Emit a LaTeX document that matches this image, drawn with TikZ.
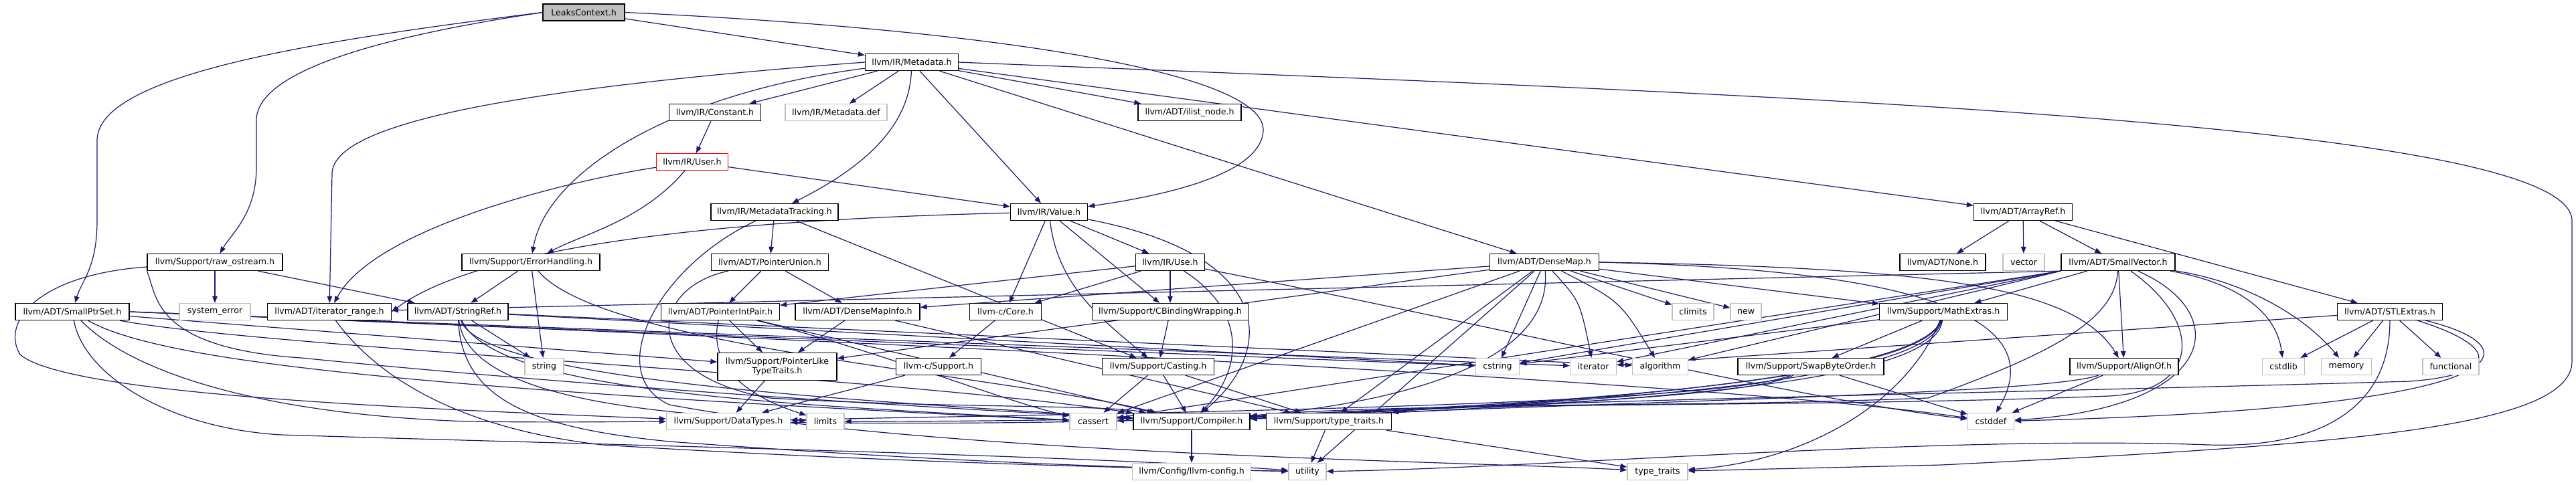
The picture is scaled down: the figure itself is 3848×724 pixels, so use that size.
\documentclass[tikz,border=0pt]{standalone}
\usepackage{fontspec}
\setmainfont{DejaVu Sans}
\usetikzlibrary{arrows.meta,backgrounds}
\definecolor{edgec}{HTML}{191970}
\definecolor{grayb}{HTML}{BFBFBF}
\definecolor{redb}{HTML}{FF0000}
\tikzset{
  bx/.style={draw=black, line width=1.3pt, fill=white, inner sep=0pt, minimum height=25pt, align=center, font=\fontsize{12.6}{14.5}\selectfont},
  gbx/.style={bx, draw=grayb},
  e/.style={draw=edgec, line width=1.2pt, -{Triangle[length=10pt,width=7.5pt]}},
}
\begin{document}
\begin{tikzpicture}[x=1pt, y=-1pt]
\useasboundingbox (0,0) rectangle (3848,724);
% nodes
\node[bx, fill=grayb, minimum width=122pt] (lc) at (872,18.5) {LeaksContext.h};
\node[bx, minimum width=139pt] (meta) at (1362,93) {llvm/IR/Metadata.h};
\node[bx, minimum width=137pt] (const) at (1068,168) {llvm/IR/Constant.h};
\node[gbx, minimum width=152pt] (mdef) at (1249,168) {llvm/IR/Metadata.def};
\node[bx, minimum width=154pt] (ilist) at (1777,168) {llvm/ADT/ilist\_node.h};
\node[bx, draw=redb, minimum width=107pt] (user) at (1034,242) {llvm/IR/User.h};
\node[bx, minimum width=190pt] (mtrack) at (1157,317) {llvm/IR/MetadataTracking.h};
\node[bx, minimum width=115pt] (value) at (1567,317) {llvm/IR/Value.h};
\node[bx, minimum width=147pt] (arrayref) at (3022,317) {llvm/ADT/ArrayRef.h};
\node[bx, minimum width=202pt] (raw) at (321,392) {llvm/Support/raw\_ostream.h};
\node[bx, minimum width=206pt] (errh) at (793,392) {llvm/Support/ErrorHandling.h};
\node[bx, minimum width=175pt] (punion) at (1150,392) {llvm/ADT/PointerUnion.h};
\node[bx, minimum width=103pt] (use) at (1748,392) {llvm/IR/Use.h};
\node[bx, minimum width=163pt] (densemap) at (2307,392) {llvm/ADT/DenseMap.h};
\node[bx, minimum width=128pt] (none) at (2902,392) {llvm/ADT/None.h};
\node[gbx, minimum width=62pt] (vector) at (3023,392) {vector};
\node[bx, minimum width=170pt] (svec) at (3164,392) {llvm/ADT/SmallVector.h};
\node[bx, minimum width=170pt] (sptr) at (108,466) {llvm/ADT/SmallPtrSet.h};
\node[gbx, minimum width=106pt] (syserr) at (321,466) {system\_error};
\node[bx, minimum width=185pt] (itrange) at (492,466) {llvm/ADT/iterator\_range.h};
\node[bx, minimum width=150pt] (sref) at (684,466) {llvm/ADT/StringRef.h};
\node[bx, minimum width=177pt] (pip) at (1076,466) {llvm/ADT/PointerIntPair.h};
\node[bx, minimum width=186pt] (dmi) at (1281,466) {llvm/ADT/DenseMapInfo.h};
\node[bx, minimum width=107pt] (core) at (1502,466) {llvm-c/Core.h};
\node[bx, minimum width=233pt] (cbw) at (1748,466) {llvm/Support/CBindingWrapping.h};
\node[gbx, minimum width=62pt] (climits) at (2529,466) {climits};
\node[gbx, minimum width=46pt] (new) at (2608,466) {new};
\node[bx, minimum width=191pt] (math) at (2903,466) {llvm/Support/MathExtras.h};
\node[bx, minimum width=157pt] (stlx) at (3570,466) {llvm/ADT/STLExtras.h};
\node[gbx, minimum width=58pt] (string) at (813,548) {string};
\node[bx, minimum width=178pt, minimum height=41pt] (pltt) at (1161,548) {llvm/Support/PointerLike\\TypeTraits.h};
\node[bx, minimum width=127pt] (csup) at (1402,548) {llvm-c/Support.h};
\node[bx, minimum width=167pt] (cast) at (1730,548) {llvm/Support/Casting.h};
\node[gbx, minimum width=65pt] (cstring) at (2237,548) {cstring};
\node[gbx, minimum width=69pt] (iter) at (2380,548) {iterator};
\node[gbx, minimum width=83pt] (algo) at (2480,548) {algorithm};
\node[bx, minimum width=218pt] (swap) at (2705,548) {llvm/Support/SwapByteOrder.h};
\node[bx, minimum width=162pt] (align) at (3173,548) {llvm/Support/AlignOf.h};
\node[gbx, minimum width=63pt] (cstdlib) at (3411,548) {cstdlib};
\node[gbx, minimum width=75pt] (memory) at (3505,548) {memory};
\node[gbx, minimum width=84pt] (functional) at (3661,548) {functional};
\node[gbx, minimum width=185pt] (dtypes) at (1088,630) {llvm/Support/DataTypes.h};
\node[gbx, minimum width=56pt] (limits) at (1233,630) {limits};
\node[gbx, minimum width=70pt] (cassert) at (1633,630) {cassert};
\node[bx, minimum width=174pt] (compiler) at (1780,630) {llvm/Support/Compiler.h};
\node[bx, minimum width=187pt] (ttraits) at (1985,630) {llvm/Support/type\_traits.h};
\node[gbx, minimum width=69pt] (cstddef) at (2974,630) {cstddef};
\node[gbx, minimum width=177pt] (lconf) at (1780,705) {llvm/Config/llvm-config.h};
\node[gbx, minimum width=56pt] (utility) at (1953,705) {utility};
\node[gbx, minimum width=90pt] (stdtt) at (2476,705) {type\_traits};
\begin{scope}[on background layer]
% edges: LeaksContext
\draw[e] (lc.west) .. controls (480,60) and (145,110) .. (145,210) -- (145,330) .. controls (145,400) and (122,420) .. (sptr);
\draw[e] (lc.west) .. controls (600,50) and (383,100) .. (383,180) -- (383,250) .. controls (383,320) and (345,350) .. (raw);
\draw[e] (lc) -- (meta);
\draw[e] (lc.east) .. controls (1500,45) and (1890,110) .. (1887,195) .. controls (1884,265) and (1720,295) .. (value);
% Metadata
\draw[e] (meta.west) .. controls (800,130) and (496,180) .. (496,260) -- (itrange);
\draw[e] (meta) .. controls (1000,140) and (815,260) .. (errh);
\draw[e] (meta) -- (const);
\draw[e] (meta) -- (mdef);
\draw[e] (meta) .. controls (1358,190) and (1290,250) .. (mtrack);
\draw[e] (meta) -- (value);
\draw[e] (meta) -- (densemap);
\draw[e] (meta) -- (ilist);
\draw[e] (meta) -- (arrayref);
\draw[e] (meta.east) .. controls (2600,140) and (3842,180) .. (3842,330) -- (3842,540) .. controls (3842,640) and (3500,665) .. (2900,695) -- (stdtt);
% Constant, User
\draw[e] (const) -- (user);
\draw[e] (user) -- (value);
\draw[e] (user) .. controls (960,330) and (870,350) .. (errh);
\draw[e] (user) .. controls (850,270) and (560,340) .. (itrange);
% MetadataTracking
\draw[e] (mtrack) -- (punion);
\draw[e] (mtrack) -- (cast);
\draw[e] (mtrack) .. controls (980,400) and (900,560) .. (1000,605) .. controls (1400,680) and (2200,690) .. (stdtt);
% Value
\draw[e] (value) .. controls (1000,330) and (700,380) .. (itrange.east);
\draw[e] (value) -- (core);
\draw[e] (value) .. controls (1580,430) and (1650,480) .. (cast);
\draw[e] (value) -- (cbw);
\draw[e] (value) -- (use);
\draw[e] (value) .. controls (1900,380) and (1910,520) .. (compiler);
% Use
\draw[e] (use) -- (pip);
\draw[e] (use) -- (core);
\draw[e] (use) -- (cbw);
\draw[e] (use) .. controls (1870,470) and (1850,560) .. (compiler);
\draw[e] (use) .. controls (2200,480) and (2700,600) .. (cstddef);
% misc
\draw[e] (cbw) -- (cast);
\draw[e] (core) -- (csup);
\draw[e] (csup) -- (dtypes);
\draw[e] (cast) -- (cassert);
\draw[e] (cast) -- (compiler);
\draw[e] (cast) -- (ttraits);
\draw[e] (compiler) -- (lconf);
\draw[e] (ttraits) -- (utility);
\draw[e] (ttraits) -- (stdtt);
% PointerUnion, PointerIntPair, DenseMapInfo
\draw[e] (punion) -- (pip);
\draw[e] (punion) -- (dmi);
\draw[e] (punion) .. controls (970,430) and (950,560) .. (1150,595) .. controls (1400,610) and (1650,605) .. (compiler);
\draw[e] (pip) -- (pltt);
\draw[e] (pip) .. controls (1055,560) and (1140,600) .. (limits);
\draw[e] (pip) .. controls (1300,520) and (1500,600) .. (cassert);
\draw[e] (pip) -- (compiler);
\draw[e] (dmi) -- (pltt);
\draw[e] (dmi) -- (ttraits);
\draw[e] (pltt) -- (dtypes);
% DenseMap
\draw[e] (densemap) -- (dmi);
\draw[e] (densemap) -- (pltt);
\draw[e] (densemap) -- (cassert);
\draw[e] (densemap) -- (ttraits);
\draw[e] (densemap) -- (utility);
\draw[e] (densemap) -- (cstring);
\draw[e] (densemap) .. controls (2320,540) and (2100,600) .. (compiler);
\draw[e] (densemap) .. controls (2360,450) .. (iter);
\draw[e] (densemap) .. controls (2420,450) .. (algo);
\draw[e] (densemap) -- (climits);
\draw[e] (densemap) -- (new);
\draw[e] (densemap) -- (math);
\draw[e] (densemap.east) .. controls (2900,400) and (3100,430) .. (align);
\draw[e] (densemap.east) .. controls (2950,405) and (3050,500) .. (cstddef);
% ArrayRef
\draw[e] (arrayref) -- (none);
\draw[e] (arrayref) -- (vector);
\draw[e] (arrayref) -- (svec);
\draw[e] (arrayref) -- (stlx);
% SmallVector
\draw[e] (svec.south west) -- (itrange);
\draw[e] (svec) -- (align);
\draw[e] (svec) .. controls (3290,480) and (3290,585) .. (3150,592) .. controls (2700,610) and (2100,600) .. (compiler);
\draw[e] (svec) -- (math);
\draw[e] (svec) .. controls (3160,480) and (3060,530) .. (2880,595) .. controls (2500,610) and (2200,600) .. (ttraits);
\draw[e] (svec.south west) -- (algo);
\draw[e] (svec.south west) -- (cassert);
\draw[e] (svec) .. controls (3340,470) and (3310,610) .. (cstddef);
\draw[e] (svec) .. controls (3330,420) and (3400,460) .. (cstdlib);
\draw[e] (svec) .. controls (3350,420) and (3440,470) .. (memory);
\draw[e] (svec.south west) -- (cstring);
\draw[e] (svec.south west) -- (iter);
% STLExtras
\draw[e] (stlx) -- (iter);
\draw[e] (stlx) -- (cstdlib);
\draw[e] (stlx) -- (memory);
\draw[e] (stlx) -- (functional);
\draw[e] (stlx) .. controls (3570,620) and (3450,670) .. (3300,665) .. controls (2900,650) and (2300,700) .. (utility);
\draw[e] (stlx) .. controls (3740,520) and (3730,560) .. (3600,570) .. controls (2900,590) and (2200,600) .. (compiler);
\draw[e] (stlx) .. controls (3790,520) and (3780,610) .. (cstddef);
% MathExtras
\draw[e] (math) -- (cstring);
\draw[e] (math) -- (swap);
\draw[e] (math) .. controls (2850,600) and (2700,690) .. (stdtt);
\draw[e] (math) .. controls (2890,570) and (2500,600) .. (compiler);
\draw[e] (math) .. controls (2880,580) and (2300,610) .. (cassert);
\draw[e] (math) .. controls (2870,590) and (2000,630) .. (limits);
\draw[e] (math) .. controls (2860,600) and (1800,640) .. (dtypes);
% SwapByteOrder, AlignOf
\draw[e] (swap) .. controls (2600,600) and (2100,610) .. (compiler);
\draw[e] (swap) .. controls (2560,610) and (1500,620) .. (dtypes);
\draw[e] (swap) -- (cstddef);
\draw[e] (align) .. controls (3050,590) and (2400,600) .. (compiler);
\draw[e] (align) -- (cstddef);
% StringRef
\draw[e] (sref) -- (string);
\draw[e] (sref) -- (algo);
\draw[e] (sref) -- (cstring);
\draw[e] (sref) .. controls (740,590) and (1200,605) .. (cassert);
\draw[e] (sref) .. controls (700,600) and (1000,620) .. (limits);
\draw[e] (sref) .. controls (690,600) and (800,640) .. (1000,660) .. controls (1400,690) and (1700,700) .. (utility);
\draw[e] (sref) .. controls (720,570) and (1300,600) .. (compiler);
% ErrorHandling
\draw[e] (errh) -- (sref);
\draw[e] (errh) -- (string);
\draw[e] (errh) .. controls (900,520) and (1500,560) .. (compiler);
% raw_ostream
\draw[e] (raw) -- (sref);
\draw[e] (raw) -- (syserr);
\draw[e] (raw) .. controls (60,410) and (0,480) .. (30,530) .. controls (100,590) and (600,610) .. (dtypes);
\draw[e] (raw.south west) .. controls (235,440) and (225,520) .. (450,535) .. controls (900,580) and (1400,610) .. (compiler);
% SmallPtrSet
\draw[e] (sptr) -- (pltt);
\draw[e] (sptr) .. controls (400,520) and (1300,560) .. (compiler);
\draw[e] (sptr) .. controls (200,560) and (400,620) .. (700,630) .. controls (850,632) and (950,630) .. (dtypes);
\draw[e] (sptr) .. controls (240,540) and (600,580) .. (cassert);
\draw[e] (sptr.east) .. controls (800,490) and (2500,560) .. (cstddef);
\draw[e] (sptr.east) -- (cstring);
\draw[e] (sptr.east) -- (iter);
\draw[e] (sptr) .. controls (125,560) and (250,640) .. (420,650) .. controls (900,665) and (1600,680) .. (utility);
% iterator_range
\draw[e] (itrange) .. controls (560,560) and (680,640) .. (900,665) .. controls (1300,690) and (1700,700) .. (utility);
\end{scope}
\end{tikzpicture}
\end{document}
